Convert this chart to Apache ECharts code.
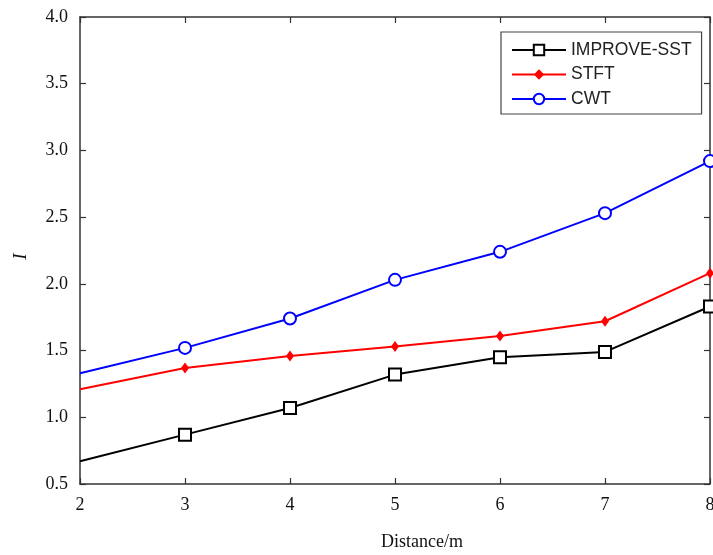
<!DOCTYPE html>
<html>
<head>
<meta charset="utf-8">
<script src="https://cdn.jsdelivr.net/npm/echarts@6/dist/echarts.min.js"></script>
<style>
  html, body { margin: 0; padding: 0; background: #fff; }
  #chart { width: 713px; height: 555px; }
</style>
</head>
<body>
<div id="chart"></div>
<script>
var distance = [2, 3, 4, 5, 6, 7, 8];
var improveSST = [0.67, 0.87, 1.07, 1.32, 1.45, 1.49, 1.83];
var stft = [1.21, 1.37, 1.46, 1.53, 1.61, 1.72, 2.08];
var cwt = [1.33, 1.52, 1.74, 2.03, 2.24, 2.53, 2.92];

// first point sits on the axis and has no marker in the original
function pairs(ys) {
  return distance.map(function (x, i) {
    return i === 0 ? { value: [x, ys[i]], symbol: 'none' } : [x, ys[i]];
  });
}

var serif = '"Liberation Serif", "Times New Roman", serif';
var axisColor = '#333';

var myChart = echarts.init(document.getElementById('chart'));

var boxAxis = {
  axisLine: { show: true, onZero: false, lineStyle: { color: axisColor, width: 1.5 } },
  axisTick: { show: true, inside: true, length: 6, lineStyle: { color: axisColor, width: 1.2 } },
  axisLabel: { show: false },
  splitLine: { show: false }
};

var option = {
  animation: false,
  backgroundColor: '#fff',
  grid: { left: 80, right: 3, top: 17, bottom: 71, outerBoundsMode: 'none' },
  legend: {
    orient: 'vertical',
    left: 501,
    top: 32,
    padding: [9, 10, 6, 10],
    itemGap: 6.5,
    itemWidth: 54,
    itemHeight: 13,
    borderColor: '#444',
    borderWidth: 1.2,
    backgroundColor: '#fff',
    textStyle: { fontFamily: '"Liberation Sans", Arial, sans-serif', fontSize: 17.5, color: '#222' },
    data: ['IMPROVE-SST', 'STFT', 'CWT']
  },
  xAxis: [{
    type: 'value',
    min: 2, max: 8, interval: 1,
    name: 'Distance/m',
    nameLocation: 'middle',
    nameGap: 49,
    nameTextStyle: { fontFamily: serif, fontSize: 18, color: '#111', padding: [0, 0, 0, 54] },
    axisLine: { show: true, onZero: false, lineStyle: { color: axisColor, width: 1.5 } },
    axisTick: { show: true, inside: true, length: 6, lineStyle: { color: axisColor, width: 1.2 } },
    axisLabel: { fontFamily: serif, fontSize: 18, color: '#111', margin: 12 },
    splitLine: { show: false }
  }, Object.assign({ type: 'value', position: 'top', min: 2, max: 8, interval: 1 }, boxAxis)],
  yAxis: [{
    type: 'value',
    min: 0.5, max: 4.0, interval: 0.5,
    name: 'I',
    nameLocation: 'middle',
    nameGap: 50,
    nameRotate: 90,
    nameTextStyle: { fontFamily: serif, fontSize: 19, fontStyle: 'italic', color: '#111', padding: [0, 12, 0, 0] },
    axisLine: { show: true, onZero: false, lineStyle: { color: axisColor, width: 1.5 } },
    axisTick: { show: true, inside: true, length: 6, lineStyle: { color: axisColor, width: 1.2 } },
    axisLabel: {
      fontFamily: serif, fontSize: 18, color: '#111', margin: 12,
      formatter: function (v) { return v.toFixed(1); }
    },
    splitLine: { show: false }
  }, Object.assign({ type: 'value', position: 'right', min: 0.5, max: 4.0, interval: 0.5 }, boxAxis)],
  series: [
    {
      name: 'IMPROVE-SST',
      type: 'line',
      data: pairs(improveSST),
      symbol: 'emptyRect',
      symbolSize: 12,
      lineStyle: { color: '#000', width: 2 },
      itemStyle: { color: '#000', borderWidth: 2 }
    },
    {
      name: 'STFT',
      type: 'line',
      data: pairs(stft),
      symbol: 'diamond',
      symbolSize: [8, 11],
      lineStyle: { color: '#ff0000', width: 2 },
      itemStyle: { color: '#ff0000' }
    },
    {
      name: 'CWT',
      type: 'line',
      data: pairs(cwt),
      symbol: 'emptyCircle',
      symbolSize: 12,
      lineStyle: { color: '#0000ff', width: 2 },
      itemStyle: { color: '#0000ff', borderWidth: 2 }
    }
  ]
};

myChart.setOption(option);
</script>
</body>
</html>
